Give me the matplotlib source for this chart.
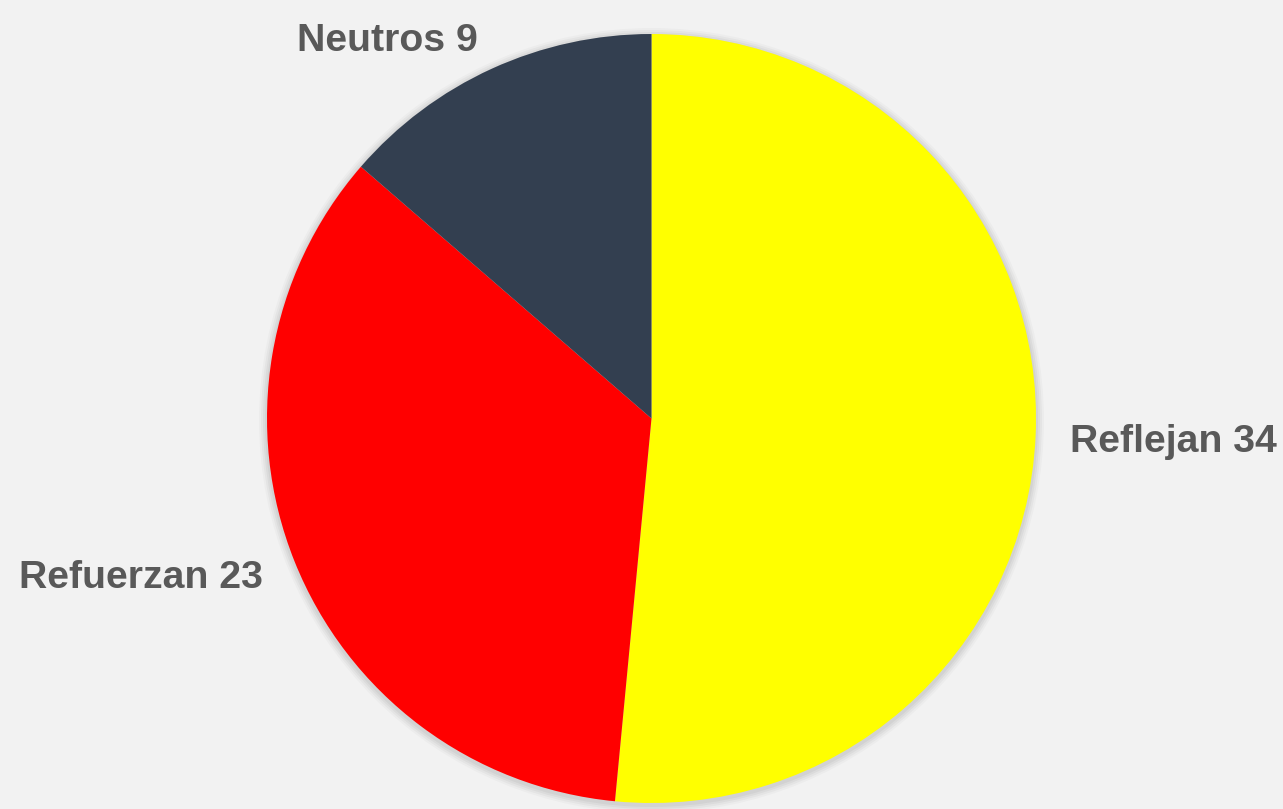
import matplotlib
matplotlib.use("Agg")
import matplotlib.pyplot as plt
from matplotlib.patches import Circle

# ── Data ──────────────────────────────────────
labels = ["Reflejan", "Refuerzan", "Neutros"]
values = [34, 23, 9]
colors = ["#ffff00", "#ff0000", "#333f50"]

W, H = 1283, 809
BG = "#f2f2f2"
CENTER = (651.5, H - 418.5)
RADIUS = 384.5

fig = plt.figure(figsize=(W / 100, H / 100), dpi=100, facecolor=BG)
ax = fig.add_axes([0, 0, 1, 1])
ax.set_facecolor(BG)

# soft shadow behind the pie
for i, a in enumerate([0.025, 0.03, 0.035, 0.04]):
    ax.add_patch(Circle((CENTER[0], CENTER[1] - 2), RADIUS + 8 - 2 * i,
                        facecolor="black", edgecolor="none", alpha=a, zorder=0))

wedges, texts = ax.pie(values, labels=[f"{l} {v}" for l, v in zip(labels, values)],
                       colors=colors, startangle=90, counterclock=False,
                       center=CENTER, radius=RADIUS, labeldistance=1.09,
                       wedgeprops=dict(linewidth=0, zorder=2),
                       textprops=dict(fontsize=28.3, fontweight="bold", color="#595959",
                                      family="Liberation Sans"))
for w in wedges:
    w.set_zorder(2)

# pie aligns labels relative to x=0, not to the pie centre
for t in texts:
    x, y = t.get_position()
    t.set_ha("left" if x > CENTER[0] else "right")
    t.set_va("center_baseline")

ax.set_xlim(0, W)
ax.set_ylim(0, H)
ax.set_aspect("equal")
ax.axis("off")

fig.savefig("out.png", dpi=100, facecolor=BG)
